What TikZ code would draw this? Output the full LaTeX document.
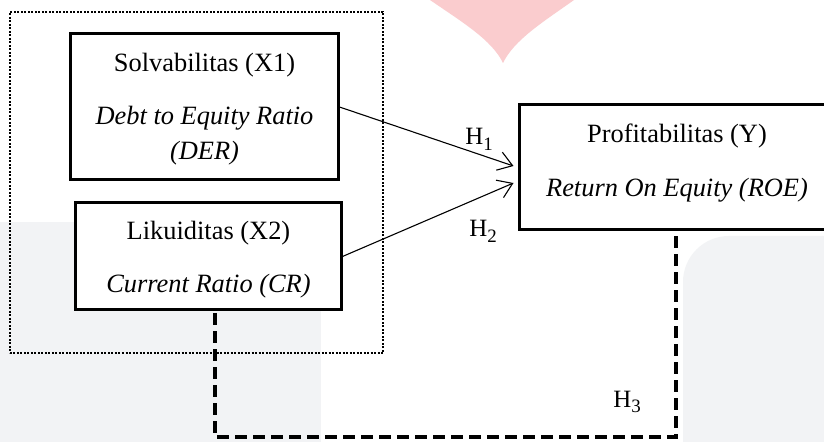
\documentclass[tikz,border=0pt]{standalone}
\usepackage{fontspec}
\setmainfont{Liberation Serif}
\usetikzlibrary{arrows.meta,calc}
\definecolor{wmgray}{RGB}{242,243,245}
\definecolor{wmpink}{RGB}{250,204,206}
\newcommand{\hsub}[1]{H\raisebox{-0.22em}{\fontsize{19}{19}\selectfont #1}}
\begin{document}
\begin{tikzpicture}[x=1bp,y=-1bp,
  boxnode/.style={draw=black,line width=3bp,fill=white,inner sep=0pt},
  txt/.style={font=\fontsize{26.5}{30}\selectfont,inner sep=0pt,anchor=base},
  itxt/.style={txt,font=\fontsize{26.5}{30}\selectfont\itshape},
  hlab/.style={font=\fontsize{25}{28}\selectfont,inner sep=0pt,anchor=base},
  grpbox/.style={draw=black,line width=2.2bp,dash pattern=on 2bp off 1.5bp},
  relarrow/.style={draw=black,line width=1.1bp,-{Straight Barb[length=14bp,width=19bp,line width=1.1bp]}},
  modline/.style={draw=black,line width=3.6bp,dash pattern=on 12bp off 6bp}]
\useasboundingbox (0,0) rectangle (824,442);
% background watermark shapes
\fill[white] (0,0) rectangle (824,442);
\fill[wmgray] (0,222) rectangle (321,442);
\fill[wmgray] (683,442) -- (683,282) arc[start angle=180,end angle=270,radius=46] -- (824,236) -- (824,442) -- cycle;
\fill[wmpink] (430,0) .. controls (462,22) and (492,40) .. (503,63) .. controls (514,40) and (543,22) .. (574,0) -- cycle;
% group box
\node[grpbox,inner sep=0pt,minimum width=373bp,minimum height=341bp] (grp) at (196.5,182.5) {};
% boxes
\node[boxnode,minimum width=267bp,minimum height=146bp] (x1) at (204.5,107) {};
\node[txt] (x1a) at (204.5,72) {Solvabilitas (X1)};
\node[itxt] (x1b) at (204.5,125) {Debt to Equity Ratio};
\node[itxt] (x1c) at (204.5,160) {(DER)};
\node[boxnode,minimum width=265bp,minimum height=107bp] (x2) at (208.5,256.5) {};
\node[txt] (x2a) at (208.5,240) {Likuiditas (X2)};
\node[itxt] (x2b) at (208.5,293) {Current Ratio (CR)};
\node[boxnode,minimum width=316bp,minimum height=125bp] (yb) at (677,167.5) {};
\node[txt] (ya) at (677,143) {Profitabilitas (Y)};
\node[itxt] (yb2) at (677,197) {Return On Equity (ROE)};
% arrows
\coordinate (t1) at ($(yb.west)+(-4,-1.5)$);
\coordinate (t2) at ($(yb.west)+(-4,15.5)$);
\draw[relarrow] (x1.east) -- (t1);
\draw[relarrow] (x2.east) -- (t2);
\node[hlab] (h1) at (479,145) {\hsub{1}};
\node[hlab] (h2) at (483,237) {\hsub{2}};
\node[hlab] (h3) at (627,407) {\hsub{3}};
% dashed moderation line
\coordinate (d0) at ($(x2.south)+(6.5,1.5)$);
\coordinate (d3) at ($(yb.south)+(-1,1.5)$);
\draw[modline] (d0) -- (d0 |- 0,437) -- (d3 |- 0,437) -- (d3);
\end{tikzpicture}
\end{document}
